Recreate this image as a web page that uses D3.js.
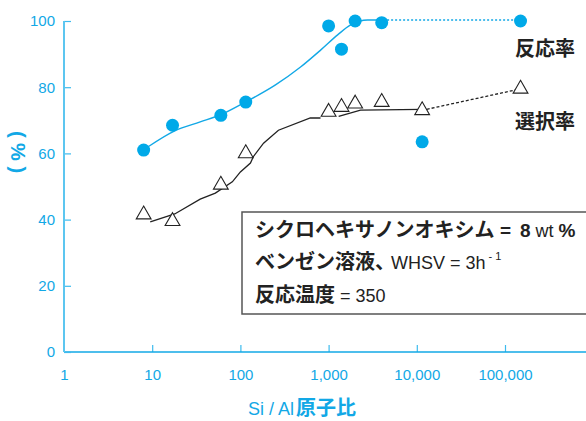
<!DOCTYPE html>
<html>
<head>
<meta charset="utf-8">
<script src="https://cdn.jsdelivr.net/npm/d3@7"></script>
<style>
  body { margin: 0; background: #fff; }
  svg { display: block; }
</style>
</head>
<body>
<div id="chart"></div>
<script>
(function () {

// measured points, Si/Al ratio on x (log)
const siAl = [8, 17, 60, 115, 1000, 1400, 2000, 4000, 11500, 150000];
const conversion = [61, 68.5, 71.5, 75.5, 98.5, 91.5, 100, 99.5, 63.5, 100];   // 反応率
const selectivity = [41.5, 39.5, 50.5, 60, 72.5, 74, 75, 75.5, 73, 79.5];      // 選択率

// hand drawn trend lines
const convTrendX = [9, 18, 35, 59, 114, 250, 481, 811, 1266, 1778, 2773, 4150];
const convTrendY = [62, 66.8, 69.5, 71.6, 75.5, 80.7, 86.1, 91.2, 95.8, 98.8, 100.3, 100.3];
// the black one is drawn in two pieces in the original
const selTrendX1 = [9.5, 18, 35, 52, 81, 100, 130, 140, 183, 270, 620, 810];
const selTrendY1 = [39.3, 41.7, 46.2, 48, 51.4, 54.4, 57.1, 59, 63.1, 67, 70.7, 70.7];
const selTrendX2 = [1300, 2300, 11400];
const selTrendY2 = [71.2, 73.1, 73.3];

// dotted extension to the last sample
const convTail = [[4150, 100.3], [150000, 100.3]];
const selTail = [[11400, 73], [150000, 79.5]];

const xTicks = [1, 10, 100, 1000, 10000, 100000];
const yTicks = [0, 20, 40, 60, 80, 100];

const width = 586, height = 421;
const blue = "#12a8e6";
const axisBlue = "#3dbbee";

const svg = d3.select("#chart").append("svg")
    .attr("width", width)
    .attr("height", height);

const x = d3.scaleLog().domain([1, 100000]).range([64, 505]);
const y = d3.scaleLinear().domain([0, 100]).range([352, 21]);

const numFont = "'Liberation Sans', Arial, sans-serif";
const jpFont = "'Noto Sans CJK JP', sans-serif";

// x axis, ticks point up into the plot
const xAxis = svg.append("g")
    .attr("transform", "translate(0," + y(0) + ")")
    .call(d3.axisBottom(x)
      .tickValues(xTicks)
      .tickSize(-7)
      .tickPadding(17)
      .tickFormat(d3.format(",")));
xAxis.select(".domain").remove();
xAxis.append("line")
    .attr("x1", x(1)).attr("x2", width)
    .attr("stroke", blue).attr("stroke-width", 1.5);
xAxis.selectAll(".tick line").attr("stroke", axisBlue).attr("stroke-width", 1.2);
xAxis.selectAll(".tick").filter(d => d === 1).select("line").remove();
xAxis.selectAll("text")
    .attr("fill", blue)
    .style("font-family", numFont)
    .style("font-size", "15px");

// y axis, ticks point right
const yAxis = svg.append("g")
    .attr("transform", "translate(" + x(1) + ",0)")
    .call(d3.axisLeft(y)
      .tickValues(yTicks)
      .tickSize(-7)
      .tickPadding(9));
yAxis.select(".domain").remove();
yAxis.append("line")
    .attr("y1", y(100)).attr("y2", y(0))
    .attr("stroke", "#5cc6f0").attr("stroke-width", 2);
yAxis.selectAll(".tick line").attr("stroke", axisBlue).attr("stroke-width", 1.2);
yAxis.selectAll("text")
    .attr("fill", blue)
    .style("font-family", numFont)
    .style("font-size", "15px");

// axis titles
const xt = svg.append("text")
    .attr("x", 248).attr("y", 415)
    .attr("fill", blue);
xt.append("tspan").text("Si / Al")
    .style("font-family", numFont).style("font-size", "18px");
xt.append("tspan").text("原子比")
    .attr("dx", 2)
    .style("font-family", jpFont).style("font-size", "20px").style("font-weight", 700);

svg.append("text")
    .attr("transform", "translate(18,152) rotate(90)")
    .attr("text-anchor", "middle")
    .attr("dominant-baseline", "central")
    .attr("fill", blue)
    .style("font-family", numFont)
    .style("font-size", "20px")
    .style("font-weight", 700)
    .text("( % )");

// condition box
svg.append("rect")
    .attr("x", 242).attr("y", 212)
    .attr("width", 400).attr("height", 102)
    .attr("fill", "#fff")
    .attr("stroke", "#555")
    .attr("stroke-width", 1.5);

const box = svg.append("g").attr("fill", "#222");

const l1 = box.append("text").attr("x", 255).attr("y", 237);
l1.append("tspan").text("シクロヘキサノンオキシム")
    .style("font-family", jpFont).style("font-size", "20px").style("font-weight", 700);
l1.append("tspan").text(" =")
    .style("font-family", numFont).style("font-size", "19px").style("font-weight", 700);
l1.append("tspan").text("8")
    .attr("dx", 9)
    .style("font-family", numFont).style("font-size", "19px").style("font-weight", 700);
l1.append("tspan").text(" wt ")
    .style("font-family", numFont).style("font-size", "18px");
l1.append("tspan").text("%")
    .style("font-family", numFont).style("font-size", "19px").style("font-weight", 700);

const l2 = box.append("text").attr("x", 255).attr("y", 269);
l2.append("tspan").text("ベンゼン溶液、")
    .style("font-family", jpFont).style("font-size", "20px").style("font-weight", 700);
l2.append("tspan").text("WHSV = 3h")
    .attr("dx", -4)
    .style("font-family", numFont).style("font-size", "18px");
l2.append("tspan").text(" - 1")
    .attr("dy", -9)
    .style("font-family", numFont).style("font-size", "11px");

const l3 = box.append("text").attr("x", 255).attr("y", 302);
l3.append("tspan").text("反応温度")
    .style("font-family", jpFont).style("font-size", "20px").style("font-weight", 700);
l3.append("tspan").text(" = 350")
    .style("font-family", numFont).style("font-size", "18px");

// trend lines
const mono = d3.line()
    .x(d => x(d[0]))
    .y(d => y(d[1]))
    .curve(d3.curveMonotoneX);
const straight = d3.line()
    .x(d => x(d[0]))
    .y(d => y(d[1]));

svg.append("path")
    .attr("d", mono(d3.zip(convTrendX, convTrendY)))
    .attr("fill", "none")
    .attr("stroke", blue)
    .attr("stroke-width", 1.4);

// black one looks hand drawn, so plain segments
svg.append("path")
    .attr("d", straight(d3.zip(selTrendX1, selTrendY1)))
    .attr("fill", "none")
    .attr("stroke", "#222")
    .attr("stroke-width", 1.3);
svg.append("path")
    .attr("d", straight(d3.zip(selTrendX2, selTrendY2)))
    .attr("fill", "none")
    .attr("stroke", "#222")
    .attr("stroke-width", 1.3);

svg.append("path")
    .attr("d", straight(convTail))
    .attr("fill", "none")
    .attr("stroke", blue)
    .attr("stroke-width", 1.4)
    .attr("stroke-dasharray", "2,2");

svg.append("path")
    .attr("d", straight(selTail))
    .attr("fill", "none")
    .attr("stroke", "#222")
    .attr("stroke-width", 1.3)
    .attr("stroke-dasharray", "3,2");

// markers
svg.selectAll("circle.conv")
  .data(d3.zip(siAl, conversion))
  .join("circle")
    .attr("class", "conv")
    .attr("cx", d => x(d[0]))
    .attr("cy", d => y(d[1]))
    .attr("r", 6.5)
    .attr("fill", "#00a9e8");

const tri = d3.symbol().type(d3.symbolTriangle).size(95);
svg.selectAll("path.sel")
  .data(d3.zip(siAl, selectivity))
  .join("path")
    .attr("class", "sel")
    .attr("d", tri)
    .attr("transform", d => "translate(" + x(d[0]) + "," + y(d[1]) + ")")
    .attr("fill", "#fff")
    .attr("stroke", "#222")
    .attr("stroke-width", 1.1);

// series labels
svg.append("text")
    .attr("x", 515).attr("y", 56)
    .attr("fill", "#222")
    .style("font-family", jpFont).style("font-size", "20px").style("font-weight", 700)
    .text("反応率");
svg.append("text")
    .attr("x", 515).attr("y", 129)
    .attr("fill", "#222")
    .style("font-family", jpFont).style("font-size", "20px").style("font-weight", 700)
    .text("選択率");

})()
</script>
</body>
</html>
